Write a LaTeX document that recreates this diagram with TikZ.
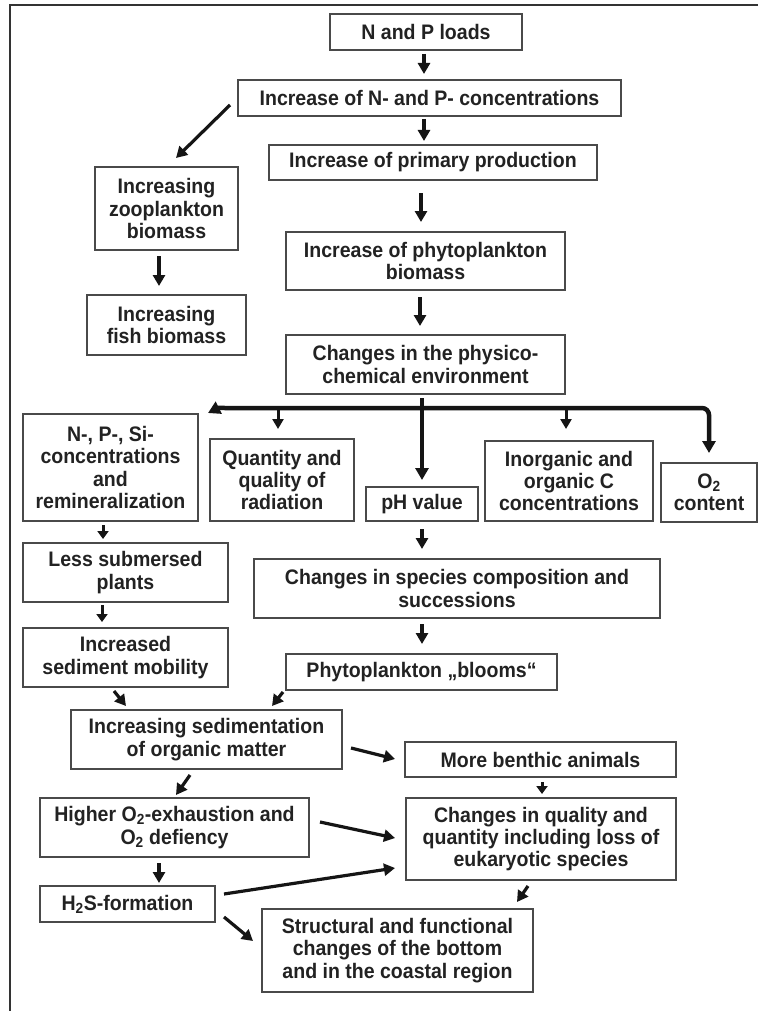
\documentclass[tikz,border=0pt]{standalone}
\usepackage{fontspec}
\setmainfont{Liberation Sans}[FakeStretch=0.93]
\usetikzlibrary{arrows.meta,calc}
\definecolor{boxc}{HTML}{4A4A4A}
\definecolor{txtc}{HTML}{222222}
\definecolor{arrc}{HTML}{151515}
\definecolor{framec}{HTML}{333333}
\begin{document}
\begin{tikzpicture}[x=1pt,y=-1pt,
  box/.style={draw=boxc, line width=2pt, text=txtc, align=center, inner sep=0pt,
    font=\fontsize{21}{22.3}\selectfont\bfseries},
  arr/.style={draw=arrc, line width=3.2pt, -{Triangle[length=11pt,width=12pt]}},
  shortarr/.style={draw=arrc, line width=3pt, -{Triangle[length=8pt,width=11pt]}},
  smallarr/.style={draw=arrc, line width=3pt, -{Triangle[length=10pt,width=11pt]}},
  bararr/.style={draw=arrc, line width=4.5pt, -{Triangle[length=12pt,width=13pt]}}]
\useasboundingbox (0,0) rectangle (758,1011);
\fill[white] (0,0) rectangle (758,1011);
\draw[framec, line width=2pt] (758,5) -- (10,5) -- (10,1011);

\node[box, minimum width=192pt, minimum height=36pt] (nload) at (426,32) {N and P loads};
\node[box, minimum width=383pt, minimum height=36pt] (incnp) at (429.5,98) {Increase of N- and P- concentrations};
\node[box, minimum width=328pt, minimum height=35pt] (primary) at (433,162.5) {Increase of primary production};
\node[box, minimum width=143pt, minimum height=83pt] (zoo) at (166.5,208.5) {Increasing\\zooplankton\\biomass};
\node[box, minimum width=279pt, minimum height=58pt] (phyto) at (425.5,261) {Increase of phytoplankton\\biomass};
\node[box, minimum width=159pt, minimum height=60pt] (fish) at (166.5,325) {Increasing\\fish biomass};
\node[box, minimum width=279pt, minimum height=59pt] (physico) at (425.5,364.5) {Changes in the physico-\\chemical environment};
\node[box, minimum width=175pt, minimum height=107pt] (npsi) at (110.5,467.5) {N-, P-, Si-\\concentrations\\and\\remineralization};
\node[box, minimum width=144pt, minimum height=82pt] (quant) at (282,480) {Quantity and\\quality of\\radiation};
\node[box, minimum width=112pt, minimum height=34pt] (ph) at (422,504) {pH value};
\node[box, minimum width=168pt, minimum height=80pt] (inorg) at (569,481) {Inorganic and\\organic C\\concentrations};
\node[box, minimum width=96pt, minimum height=59pt] (o2) at (709,492.5) {O\textsubscript{2}\\content};
\node[box, minimum width=205pt, minimum height=59pt] (less) at (125.5,572.5) {Less submersed\\plants};
\node[box, minimum width=406pt, minimum height=59pt] (species) at (457,588.5) {Changes in species composition and\\successions};
\node[box, minimum width=205pt, minimum height=59pt] (incsed) at (125.5,657.5) {Increased\\sediment mobility};
\node[box, minimum width=271pt, minimum height=36pt] (blooms) at (421.5,672) {Phytoplankton „blooms“};
\node[box, minimum width=271pt, minimum height=59pt] (sedim) at (206.5,739.5) {Increasing sedimentation\\of organic matter};
\node[box, minimum width=271pt, minimum height=35pt] (benthic) at (540.5,759.5) {More benthic animals};
\node[box, minimum width=269pt, minimum height=59pt] (higher) at (174.5,827.5) {Higher O\textsubscript{2}-exhaustion and\\O\textsubscript{2} defiency};
\node[box, minimum width=270pt, minimum height=82pt] (quality) at (541,839) {Changes in quality and\\quantity including loss of\\eukaryotic species};
\node[box, minimum width=175pt, minimum height=36pt] (hts) at (127.5,904) {H\textsubscript{2}S-formation};
\node[box, minimum width=271pt, minimum height=83pt] (struct) at (397.5,950.5) {Structural and functional\\changes of the bottom\\and in the coastal region};

% arrows
\draw[arr] ([shift={(-2,3)}]nload.south) -- ([shift={(-5.5,-5)}]incnp.north);
\draw[arr] ([shift={(-5.5,2)}]incnp.south) -- ([shift={(-9,-3)}]primary.north);
\draw[arr] ([shift={(-7,-12)}]incnp.south west) -- ([shift={(9.5,-8)}]zoo.north);
\draw[arr] ([shift={(-12,12)}]primary.south) -- ([shift={(-4.5,-9)}]phyto.north);
\draw[arr] ([shift={(-7.5,5)}]zoo.south) -- ([shift={(-7.5,-8)}]fish.north);
\draw[arr] ([shift={(-5.5,6)}]phyto.south) -- ([shift={(-5.5,-8)}]physico.north);

% distribution bracket
\draw[bararr] ([shift={(-3.5,3)}]physico.south) -- ([shift={(0,-6)}]ph.north);
\draw[bararr, rounded corners=7pt] ([shift={(-3.5,13)}]physico.south) -| ([shift={(0,-9)}]o2.north);
\draw[bararr] ([shift={(-3.5,13)}]physico.south) -- ++(-180,0)
   .. controls +(-16,0) and +(10,-5) .. ([shift={(9,0)}]npsi.north east);
\draw[smallarr] ([shift={(-4,-32)}]quant.north) -- ([shift={(-4,-9)}]quant.north);
\draw[smallarr] ([shift={(-3,-34)}]inorg.north) -- ([shift={(-3,-11)}]inorg.north);

\draw[shortarr] ([shift={(-7.5,3)}]npsi.south) -- ([shift={(-7.5,-3)}]less.north -| npsi.south);
\draw[arr] ([shift={(0,7)}]ph.south) -- ([shift={(-35,-9)}]species.north);
\draw[shortarr] ([shift={(-23.5,2)}]less.south) -- ([shift={(-23.5,-5)}]incsed.north);
\draw[arr] ([shift={(-35,5)}]species.south) -- ([shift={(0.5,-9)}]blooms.north);
\draw[arr] ([shift={(-11.5,3)}]incsed.south) -- ([shift={(56,-3)}]sedim.north west);
\draw[arr] ([shift={(-2,1)}]blooms.south west) -- ([shift={(-71,-3)}]sedim.north east);
\draw[arr] ([shift={(8,8.5)}]sedim.east) -- ([shift={(-9,-0.5)}]benthic.west);
\draw[arr] ([shift={(-16.5,5)}]sedim.south) -- ([shift={(1.5,-2)}]higher.north);
\draw[shortarr] ([shift={(1.5,4)}]benthic.south) -- ([shift={(1,-3)}]quality.north);
\draw[arr] ([shift={(10,-5.5)}]higher.east) -- ([shift={(-10,-1)}]quality.west);
\draw[arr] ([shift={(8,-10)}]hts.east) -- ([shift={(-10,29)}]quality.west);
\draw[arr] ([shift={(-15.5,5)}]higher.south) -- ([shift={(31.5,-2)}]hts.north);
\draw[arr] ([shift={(8,13)}]hts.east) -- ([shift={(-8,-9.5)}]struct.west);
\draw[arr] ([shift={(-13,5)}]quality.south) -- ([shift={(-17,-6)}]struct.north east);
\end{tikzpicture}
\end{document}
